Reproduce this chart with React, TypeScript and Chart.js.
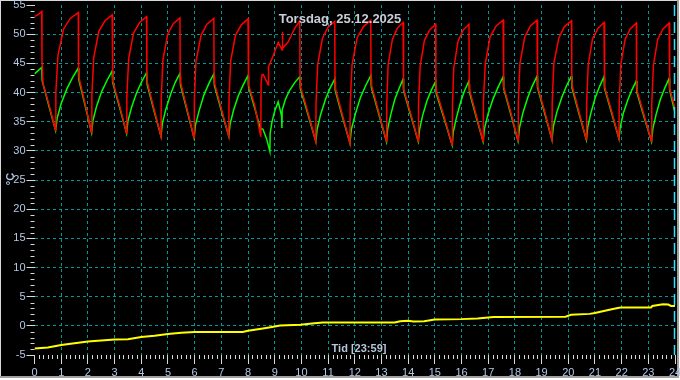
import { useEffect, useRef } from 'react';
import { Chart, registerables } from 'chart.js';

Chart.register(...registerables);

const titleText = 'Torsdag, 25.12.2025';
const xAxisText = 'Tid [23:59]';
const yAxisText = '°C';
const nowHour = 23.98;

// Supply temperature (red) [hour, °C]
const redSeries: [number, number][] = [
  [0, 53.0], [0.15, 53.4], [0.27, 53.9], [0.28, 45.6], [0.32, 41.5], [0.55, 37.8],
  [0.79, 33.5], [0.80, 40.0], [0.88, 46.4], [1.09, 50.9], [1.34, 52.7], [1.64, 53.7], [1.65, 43.7], [1.67, 42.5], [1.90, 38.0],
  [2.14, 33.1], [2.15, 39.6], [2.22, 46.0], [2.41, 50.5], [2.64, 52.3], [2.91, 53.3], [2.92, 43.2], [2.94, 42.0], [3.19, 37.7],
  [3.45, 33.0], [3.46, 39.4], [3.53, 45.8], [3.71, 50.2], [3.94, 52.0], [4.20, 53.0], [4.21, 42.9], [4.23, 41.7], [4.47, 37.3],
  [4.74, 32.5], [4.75, 39.0], [4.81, 45.5], [4.99, 50.0], [5.20, 51.8], [5.45, 52.8], [5.46, 42.8], [5.48, 41.6], [5.72, 37.1],
  [5.98, 32.2], [5.99, 38.8], [6.05, 45.3], [6.24, 49.8], [6.46, 51.7], [6.72, 52.7], [6.73, 42.7], [6.75, 41.5], [7.00, 37.2],
  [7.28, 32.5], [7.29, 38.9], [7.35, 45.4], [7.53, 49.8], [7.75, 51.6], [8.00, 52.6], [8.01, 42.4], [8.03, 41.3], [8.25, 37.8],
  [8.48, 32.4], [8.49, 41.6], [8.53, 43.1], [8.57, 43.1], [8.76, 41.3], [8.77, 44.5], [8.82, 44.9], [9.00, 47.0], [9.13, 48.6],
  [9.20, 48.0], [9.28, 47.3], [9.29, 50.4], [9.30, 47.6], [9.51, 48.7], [9.63, 49.9], [9.75, 51.0], [9.94, 52.3], [9.95, 42.2],
  [9.97, 41.0], [10.25, 36.5],
  [10.54, 31.6], [10.55, 38.2], [10.61, 44.8], [10.79, 49.3], [11.00, 51.2], [11.25, 52.2], [11.26, 41.8], [11.28, 40.6], [11.54, 36.1],
  [11.82, 31.3], [11.83, 38.1], [11.90, 44.8], [12.09, 49.4], [12.33, 51.3], [12.60, 52.4], [12.61, 42.4], [12.63, 41.2], [12.90, 36.6],
  [13.19, 31.6], [13.20, 38.1], [13.25, 44.7], [13.41, 49.1], [13.59, 51.0], [13.81, 52.0], [13.82, 41.8], [13.84, 40.6], [14.10, 36.3],
  [14.38, 31.6], [14.39, 38.0], [14.45, 44.5], [14.61, 48.9], [14.80, 50.7], [15.03, 51.7], [15.04, 41.4], [15.06, 40.2], [15.35, 35.8],
  [15.65, 31.0], [15.66, 37.6], [15.71, 44.2], [15.87, 48.8], [16.06, 50.7], [16.28, 51.7], [16.29, 41.5], [16.31, 40.3], [16.55, 36.1],
  [16.81, 31.6], [16.82, 38.3], [16.89, 44.9], [17.07, 49.5], [17.30, 51.4], [17.56, 52.4], [17.57, 42.2], [17.59, 41.0], [17.85, 36.5],
  [18.12, 31.7], [18.13, 38.3], [18.19, 45.0], [18.37, 49.5], [18.58, 51.4], [18.83, 52.4], [18.84, 42.3], [18.86, 41.1], [19.12, 36.7],
  [19.39, 31.9], [19.40, 38.4], [19.46, 45.0], [19.65, 49.4], [19.86, 51.3], [20.12, 52.3], [20.13, 42.3], [20.15, 41.1], [20.40, 36.7],
  [20.68, 31.9], [20.69, 38.3], [20.75, 44.8], [20.91, 49.2], [21.11, 51.0], [21.34, 52.0], [21.35, 42.2], [21.37, 41.0], [21.63, 36.7],
  [21.90, 32.1], [21.91, 38.4], [21.97, 44.8], [22.13, 49.1], [22.32, 50.9], [22.55, 51.9], [22.56, 41.5], [22.58, 40.3], [22.84, 36.1],
  [23.12, 31.6], [23.13, 38.1], [23.19, 44.6], [23.35, 49.1], [23.55, 50.9], [23.78, 51.9], [23.79, 41.9], [23.81, 40.7], [24.0, 37.3],
];

// Return temperature (green) [hour, °C]
const greenSeries: [number, number][] = [
  [0, 43.2], [0.20, 44.0], [0.27, 44.3], [0.29, 42.0], [0.55, 37.5],
  [0.79, 33.5], [0.85, 35.6], [1.00, 38.1], [1.22, 40.7], [1.43, 42.6], [1.64, 44.2], [1.66, 42.2], [1.90, 37.7],
  [2.14, 33.1], [2.19, 35.2], [2.33, 37.7], [2.52, 40.2], [2.72, 42.1], [2.91, 43.7], [2.93, 41.7], [3.19, 37.4],
  [3.45, 33.0], [3.50, 35.1], [3.64, 37.5], [3.83, 40.0], [4.01, 41.8], [4.20, 43.4], [4.22, 41.4], [4.47, 37.0],
  [4.74, 32.5], [4.79, 34.7], [4.92, 37.1], [5.10, 39.7], [5.27, 41.7], [5.45, 43.3], [5.47, 41.3], [5.72, 36.8],
  [5.98, 32.2], [6.03, 34.4], [6.17, 36.9], [6.35, 39.6], [6.54, 41.6], [6.72, 43.2], [6.74, 41.2], [7.00, 36.9],
  [7.28, 32.5], [7.33, 34.6], [7.46, 37.0], [7.64, 39.5], [7.82, 41.3], [8.00, 42.9], [8.02, 41.0], [8.24, 37.5],
  [8.46, 33.9], [8.56, 33.7], [8.70, 32.0], [8.82, 29.9], [8.83, 33.0], [8.90, 35.0], [9.00, 36.8], [9.13, 38.4],
  [9.18, 37.5], [9.26, 35.9], [9.27, 33.9], [9.28, 37.0], [9.40, 38.8], [9.55, 40.3], [9.75, 41.7], [9.94, 42.7],
  [9.96, 40.7], [10.25, 36.2],
  [10.54, 31.6], [10.59, 33.7], [10.72, 36.2], [10.90, 38.8], [11.07, 40.7], [11.25, 42.3], [11.27, 40.3], [11.54, 35.8],
  [11.82, 31.3], [11.87, 33.6], [12.02, 36.3], [12.21, 39.1], [12.41, 41.2], [12.60, 42.9], [12.62, 40.9], [12.90, 36.3],
  [13.19, 31.6], [13.23, 33.7], [13.35, 36.2], [13.50, 38.8], [13.66, 40.7], [13.81, 42.3], [13.83, 40.3], [14.10, 36.0],
  [14.38, 31.6], [14.43, 33.7], [14.54, 36.0], [14.70, 38.5], [14.87, 40.4], [15.03, 41.9], [15.05, 39.9], [15.35, 35.5],
  [15.65, 31.0], [15.69, 33.2], [15.81, 35.7], [15.97, 38.4], [16.12, 40.4], [16.28, 42.0], [16.30, 40.0], [16.55, 35.8],
  [16.81, 31.6], [16.86, 33.8], [17.00, 36.4], [17.19, 39.0], [17.38, 41.0], [17.56, 42.7], [17.58, 40.7], [17.85, 36.2],
  [18.12, 31.7], [18.17, 33.9], [18.30, 36.5], [18.48, 39.1], [18.65, 41.1], [18.83, 42.8], [18.85, 40.8], [19.12, 36.4],
  [19.39, 31.9], [19.44, 34.1], [19.57, 36.6], [19.76, 39.2], [19.94, 41.2], [20.12, 42.8], [20.14, 40.8], [20.40, 36.4],
  [20.68, 31.9], [20.73, 34.1], [20.85, 36.5], [21.01, 39.1], [21.18, 41.1], [21.34, 42.7], [21.36, 40.7], [21.63, 36.4],
  [21.90, 32.1], [21.95, 34.1], [22.06, 36.4], [22.23, 38.7], [22.39, 40.5], [22.55, 42.0], [22.57, 40.0], [22.84, 35.8],
  [23.12, 31.6], [23.17, 33.8], [23.29, 36.2], [23.45, 38.8], [23.62, 40.8], [23.78, 42.4], [23.80, 40.4], [24.0, 36.5],
];

// Outdoor temperature (yellow) [hour, °C]
const yellowSeries: [number, number][] = [
  [0, -3.9], [0.5, -3.7], [1.0, -3.3], [1.5, -3.0], [2.0, -2.7], [3.0, -2.35], [3.5, -2.3], [4.0, -1.9],
  [4.5, -1.7], [5.0, -1.4], [5.5, -1.2], [6.0, -1.05], [7.8, -1.05], [8.0, -0.85], [8.5, -0.5], [8.9, -0.2],
  [9.2, 0.05], [9.97, 0.2], [10.4, 0.4], [10.8, 0.58], [13.5, 0.58], [13.7, 0.8], [14.0, 0.85], [14.2, 0.75],
  [14.6, 0.8], [15.0, 1.1], [16.0, 1.15], [16.6, 1.25], [17.2, 1.5], [19.9, 1.55], [20.1, 1.9], [20.8, 2.05],
  [21.0, 2.2], [21.5, 2.7], [21.9, 3.1], [22.0, 3.15], [23.1, 3.15], [23.15, 3.4], [23.55, 3.7], [23.75, 3.65],
  [23.85, 3.4], [24.0, 3.4],
];

const xMin = 0;
const xMax = 24;
const yMin = -5;
const yMax = 55;

const tickFont = { family: 'Liberation Sans, Arial, sans-serif', size: 11 };
const tickLabelColor = '#b4c8e4';
const gridColor = '#009999';
const tickMarkColor = '#d8d8d8';

const decorPlugin = {
  id: 'decor',
  beforeDraw(chart: any) {
    const { ctx, width, height } = chart;
    ctx.save();
    ctx.fillStyle = '#ffffff';
    ctx.fillRect(0, 0, width, height);
    ctx.fillStyle = '#000000';
    ctx.fillRect(1, 1, width - 3, height - 4);
    ctx.fillStyle = '#d8d8d8';
    ctx.fillRect(0, 0, width - 1, 1);
    ctx.fillRect(0, 0, 1, height - 2);
    ctx.fillStyle = '#a0a0a0';
    ctx.fillRect(width - 3, 0, 2, height - 2);
    ctx.fillRect(0, height - 4, width - 1, 2);
    ctx.restore();
  },
  afterDraw(chart: any) {
    const { ctx, chartArea, scales } = chart;
    const x = scales.x;
    const y = scales.y;
    ctx.save();
    // minor ticks
    ctx.strokeStyle = tickMarkColor;
    ctx.lineWidth = 1;
    ctx.beginPath();
    for (let i = 0; i <= 144; i++) {
      if (i % 6 === 0) continue;
      const px = Math.round(x.getPixelForValue(i / 6)) + 0.5;
      ctx.moveTo(px, chartArea.bottom);
      ctx.lineTo(px, chartArea.bottom + 4);
    }
    for (let v = yMin; v <= yMax; v++) {
      if (v % 5 === 0) continue;
      const py = Math.round(y.getPixelForValue(v)) + 0.5;
      ctx.moveTo(chartArea.left - 4, py);
      ctx.lineTo(chartArea.left, py);
    }
    ctx.stroke();
    // now marker
    const nx = Math.round(x.getPixelForValue(nowHour)) + 0.5;
    ctx.strokeStyle = '#30e0ff';
    ctx.lineWidth = 1.5;
    ctx.setLineDash([11, 6]);
    ctx.beginPath();
    ctx.moveTo(nx, chartArea.top);
    ctx.lineTo(nx, chartArea.bottom);
    ctx.stroke();
    ctx.setLineDash([]);
    // texts
    ctx.fillStyle = '#c8cdd6';
    ctx.font = 'bold 13px Liberation Sans, Arial, sans-serif';
    ctx.textAlign = 'center';
    ctx.textBaseline = 'alphabetic';
    ctx.fillText(titleText, 340, 23);
    ctx.fillStyle = '#b8c6d8';
    ctx.font = 'bold 11px Liberation Sans, Arial, sans-serif';
    ctx.fillText(xAxisText, 359, 352);
    ctx.translate(14, 179);
    ctx.rotate(-Math.PI / 2);
    ctx.fillStyle = tickLabelColor;
    ctx.fillText(yAxisText, 0, 0);
    ctx.restore();
  },
};

export default function App() {
  const ref = useRef<HTMLCanvasElement>(null);
  useEffect(() => {
    document.body.style.margin = '0';
    const toXY = (s: [number, number][]) => s.map(([x, y]) => ({ x, y }));
    const chart = new Chart(ref.current!, {
      type: 'line',
      data: {
        datasets: [
          { data: toXY(redSeries), borderColor: '#ff0000', borderWidth: 1.5, pointRadius: 0, tension: 0, fill: false },
          { data: toXY(greenSeries), borderColor: '#00ff00', borderWidth: 1.5, pointRadius: 0, tension: 0, fill: false },
          { data: toXY(yellowSeries), borderColor: '#ffff00', borderWidth: 2, pointRadius: 0, tension: 0, fill: false },
        ],
      },
      options: {
        responsive: false,
        animation: false,
        events: [],
        layout: { padding: { left: 0, right: 5, top: 5, bottom: 0 } },
        plugins: { legend: { display: false }, tooltip: { enabled: false }, title: { display: false } },
        scales: {
          x: {
            type: 'linear',
            min: xMin,
            max: xMax,
            ticks: { stepSize: 1, color: tickLabelColor, font: tickFont, padding: 2, maxRotation: 0, autoSkip: false },
            grid: {
              color: (c: any) => (c.tick && (c.tick.value === xMin || c.tick.value === xMax) ? 'rgba(0,0,0,0)' : gridColor),
              tickColor: tickMarkColor,
              tickLength: 9,
              lineWidth: 1,
            },
            border: { display: false, dash: [3, 3] },
            afterFit: (s: any) => {
              s.height = 25;
              s.paddingLeft = 0;
              s.paddingRight = 0;
            },
          },
          y: {
            type: 'linear',
            min: yMin,
            max: yMax,
            ticks: { stepSize: 5, color: tickLabelColor, font: tickFont, padding: 1 },
            grid: {
              color: (c: any) => (c.tick && (c.tick.value === yMin || c.tick.value === yMax) ? 'rgba(0,0,0,0)' : gridColor),
              tickColor: tickMarkColor,
              tickLength: 8,
              lineWidth: 1,
            },
            border: { display: false, dash: [3, 3] },
            afterFit: (s: any) => {
              s.width = 34.5;
              s.paddingTop = 0;
              s.paddingBottom = 0;
            },
          },
        },
      },
      plugins: [decorPlugin],
    });
    return () => chart.destroy();
  }, []);
  return <canvas ref={ref} width={680} height={380} style={{ display: 'block' }} />;
}
